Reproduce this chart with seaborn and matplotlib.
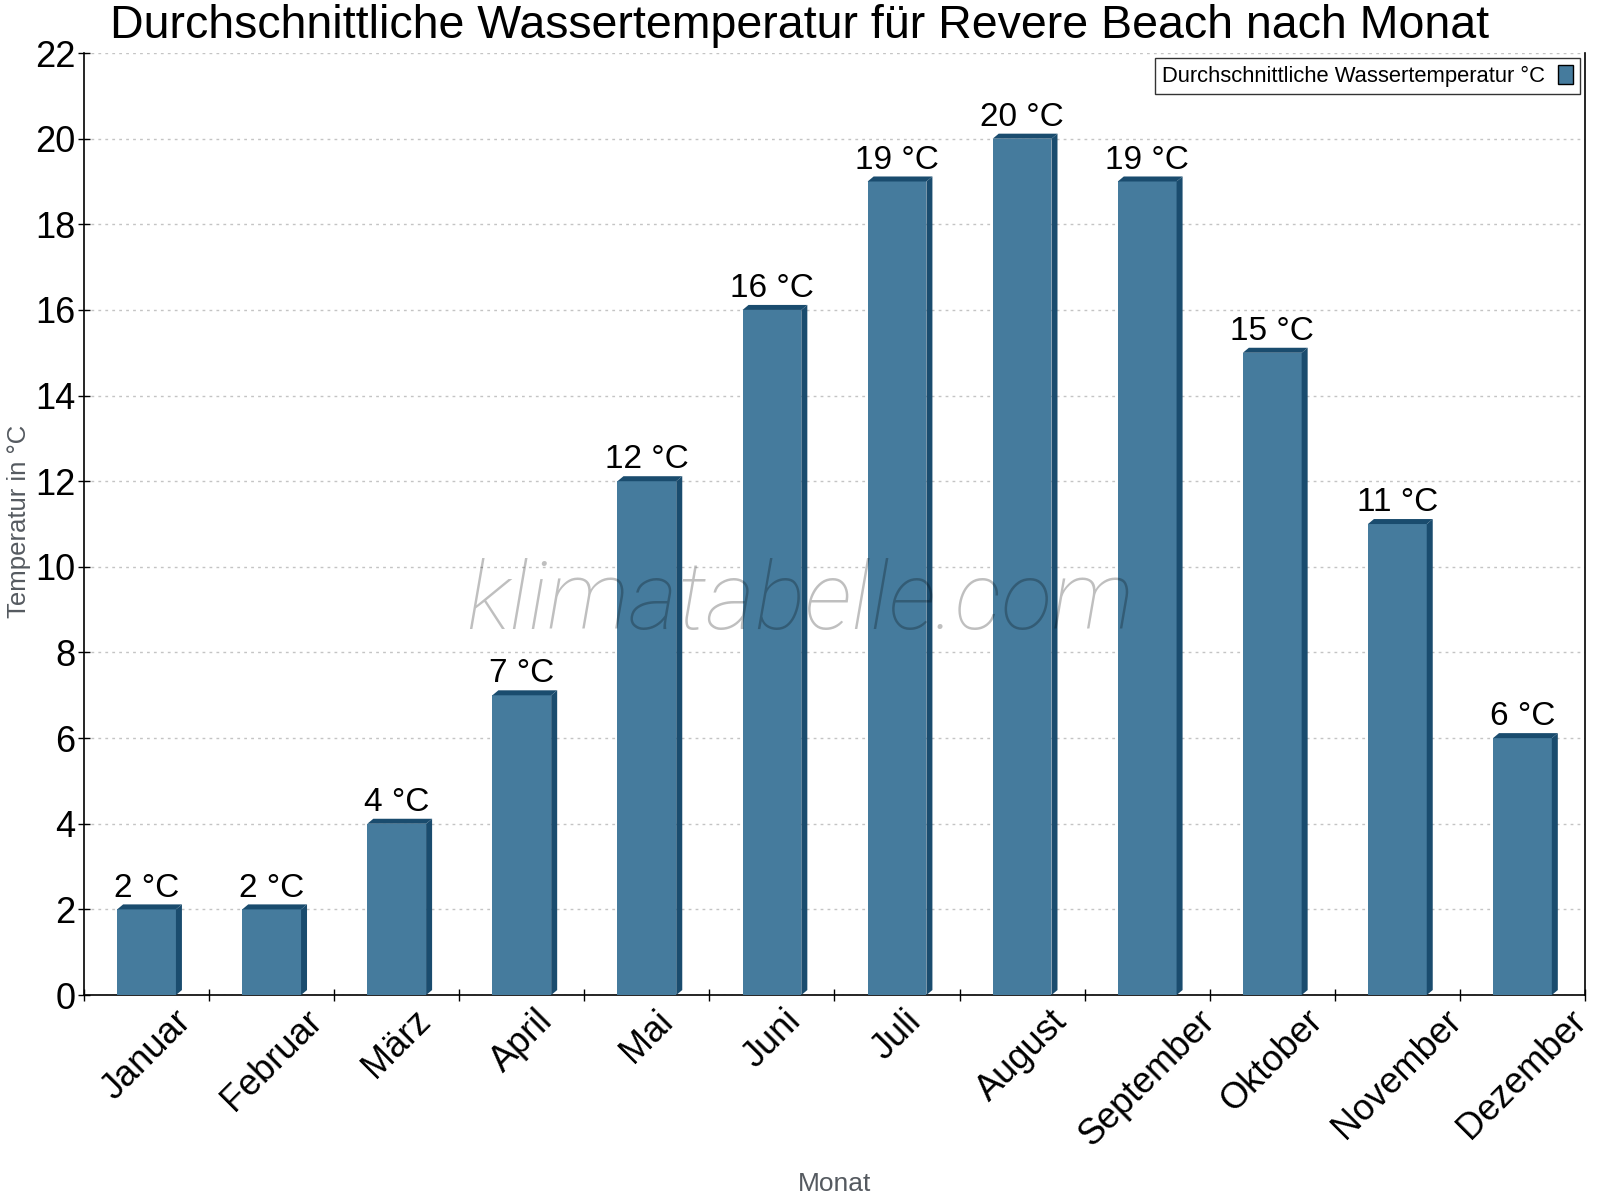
import numpy as np
import pandas as pd
import matplotlib
matplotlib.use("Agg")
import matplotlib.pyplot as plt
import seaborn as sns
from matplotlib.patches import Polygon

months = ["Januar", "Februar", "März", "April", "Mai", "Juni", "Juli",
          "August", "September", "Oktober", "November", "Dezember"]
temps = [2, 2, 4, 7, 12, 16, 19, 20, 19, 15, 11, 6]
yticks = list(range(0, 23, 2))

bar_color = "#457b9d"
side_color = "#1a4c6e"

sns.set_theme(style="white")
plt.rcParams['font.family'] = ['Liberation Sans', 'DejaVu Sans']
plt.rcParams['text.color'] = 'black'
plt.rcParams['xtick.color'] = 'black'
plt.rcParams['ytick.color'] = 'black'

df = pd.DataFrame({"Monat": months, "Temp": temps})

fig = plt.figure(figsize=(16, 12), dpi=100)
ax = fig.add_axes([0.0525, 0.1708, 0.9381, 0.785])

sns.barplot(data=df, x="Monat", y="Temp", color=bar_color, saturation=1,
            width=0.47, ax=ax, label="Durchschnittliche Wassertemperatur °C",
            linewidth=0, zorder=3)

# 3D look: dark top and right side for every bar
dx, dy = 0.048, 0.117
for p in list(ax.patches):
    x0 = p.get_x()
    x1 = x0 + p.get_width()
    h = p.get_height()
    top = Polygon([(x0, h), (x0 + dx, h + dy), (x1 + dx, h + dy), (x1, h)],
                  closed=True, facecolor=side_color, edgecolor="none", zorder=3)
    side = Polygon([(x1, 0), (x1 + dx, dy), (x1 + dx, h + dy), (x1, h)],
                   closed=True, facecolor=side_color, edgecolor="none", zorder=3)
    ax.add_patch(top)
    ax.add_patch(side)
    ax.text(x0 + p.get_width() / 2, h + dy + 0.02, f"{h:.0f} °C",
            ha="center", va="bottom", fontsize=24, color="black", zorder=4)

ax.set_xlim(-0.5, len(months) - 0.5)
ax.set_ylim(0, 22)
ax.set_yticks(yticks)
ax.yaxis.grid(True, color="#c4c4c4", linestyle=(0, (2, 3)), linewidth=1)
ax.set_axisbelow(True)

ax.set_xticks(np.arange(len(months)))
ax.set_xticklabels(months, rotation=45, ha="center", fontsize=26)
ax.set_xticks(np.arange(len(months) + 1) - 0.5, minor=True)
ax.tick_params(axis="x", which="major", length=0, pad=6)
ax.tick_params(axis="x", which="minor", direction="inout", length=8,
               width=1, color="black", bottom=True)
ax.tick_params(axis="y", direction="inout", length=8, width=1,
               color="black", labelsize=26, left=True, pad=2)

for side_name in ["left", "bottom", "right"]:
    ax.spines[side_name].set_color("black")
    ax.spines[side_name].set_linewidth(1.2)
ax.spines["top"].set_visible(False)

ax.set_xlabel("Monat", fontsize=19, color="#555a60", labelpad=14)
ax.set_ylabel("Temperatur in °C", fontsize=18.5, color="#555a60")
ax.yaxis.set_label_coords(-0.0355, 0.503)

fig.suptitle("Durchschnittliche Wassertemperatur für Revere Beach nach Monat",
             fontsize=33.5, x=0.5, y=0.997, va="top", color="black")

leg = ax.legend(loc="upper right", fontsize=15.8, markerfirst=False,
                fancybox=False, frameon=True, handlelength=0.7,
                handleheight=1.0, borderpad=0.3, handletextpad=0.6,
                borderaxespad=0, bbox_to_anchor=(0.9967, 0.9947))
leg.get_frame().set_edgecolor("black")
leg.get_frame().set_linewidth(1)
for h in leg.legend_handles:
    h.set_edgecolor("black")
    h.set_linewidth(1)

fig.text(0.5, 0.497, "klimatabelle.com", fontsize=68, family="Roboto",
         fontweight="light", style="italic", color="black", alpha=0.25,
         ha="center", va="center", zorder=10)

fig.savefig("out.png", dpi=100)
